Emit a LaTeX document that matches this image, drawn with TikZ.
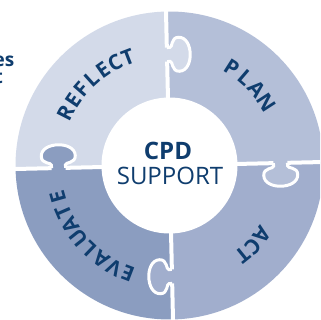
\documentclass[tikz,border=0pt]{standalone}
\usepackage{fontspec}
\setmainfont{Open Sans}
\usetikzlibrary{calc}
\definecolor{navy}{HTML}{0F3D6E}
\definecolor{reflectc}{HTML}{D3DAE9}
\definecolor{planc}{HTML}{B4BFD8}
\definecolor{actc}{HTML}{A1AECD}
\definecolor{evalc}{HTML}{8B9DC0}
\tikzset{
	seam/.style={draw=white,line width=4pt},
	taboutline/.style={draw=white,line width=3pt},
	letter/.style={font=\fontsize{21}{21}\selectfont\bfseries,text=navy,inner sep=0pt},
	hub/.style={circle,fill=white,minimum size=136pt,inner sep=0pt},
	sidetext/.style={font=\fontsize{19}{19}\selectfont\bfseries,text=navy,inner sep=0pt}
	}

\begin{document}
\begin{tikzpicture}[x=1pt,y=1pt]
		\useasboundingbox (-169.5,-154.5) rectangle (150.5,165.5);
		\clip (-169.5,-154.5) rectangle (150.5,165.5);
	
		\node[sidetext,anchor=base east] (es) at (-155,98.5) {es};
		\node[sidetext,anchor=base east] (t) at (-166.5,81.5) {t};
	
		\begin{scope}[rotate=1.3]
		\fill[reflectc] (0,0) -- (90:154) arc (90:180:154) -- cycle;
		\fill[planc] (0,0) -- (0:154) arc (0:90:154) -- cycle;
		\fill[actc] (0,0) -- (-90:154) arc (-90:0:154) -- cycle;
		\fill[evalc] (0,0) -- (180:154) arc (180:270:154) -- cycle;
		\foreach \phi/\col in {90/reflectc,0/planc,-90/actc,180/evalc}{
			\begin{scope}[rotate=\phi,yscale=-1]
			\fill[\col] (104,-1) -- (104,3) .. controls (104,6) and (94,4) .. (94,12) .. controls (94,27) and (128,27) .. (128,12) .. controls (128,4) and (118,6) .. (118,3) -- (118,-1) -- cycle;
			\draw[taboutline] (104,0) -- (104,3) .. controls (104,6) and (94,4) .. (94,12) .. controls (94,27) and (128,27) .. (128,12) .. controls (128,4) and (118,6) .. (118,3) -- (118,0);
			\draw[seam] (60,0) -- (104,0) (118,0) -- (160,0);
			\end{scope}}
		\end{scope}
	
		\node[hub] (hub) at (0,0) {};
		\node[font=\fontsize{24}{24}\selectfont\bfseries,text=navy] (cpd) at (-1.5,14.5) {CPD};
		\node[font=\fontsize{24}{24}\selectfont,text=navy] (support) at (0.5,-10.5) {SUPPORT};
	
		\foreach \ch [count=\i] in {R,E,F,L,E,C,T}{
			\pgfmathsetmacro\a{153-(\i-1)*7}
			\node[letter,rotate=\a-90] (r\i) at (\a:116) {\ch};}
		\foreach \ch [count=\i] in {P,L,A,N}{
			\pgfmathsetmacro\a{57.5-(\i-1)*8.2}
			\node[letter,rotate=\a-90] (p\i) at (\a:116) {\ch};}
		\foreach \ch [count=\i] in {A,C,T}{
			\pgfmathsetmacro\a{-37-(\i-1)*7}
			\node[letter,rotate=\a-90] (a\i) at (\a:116) {\ch};}
		\foreach \ch [count=\i] in {E,V,A,L,U,A,T,E}{
			\pgfmathsetmacro\a{249-(\i-1)*7.6}
			\node[letter,rotate=\a-90] (e\i) at (\a:116) {\ch};}
		%\draw[seam] (hub) circle (70);
	\end{tikzpicture}
\end{document}
